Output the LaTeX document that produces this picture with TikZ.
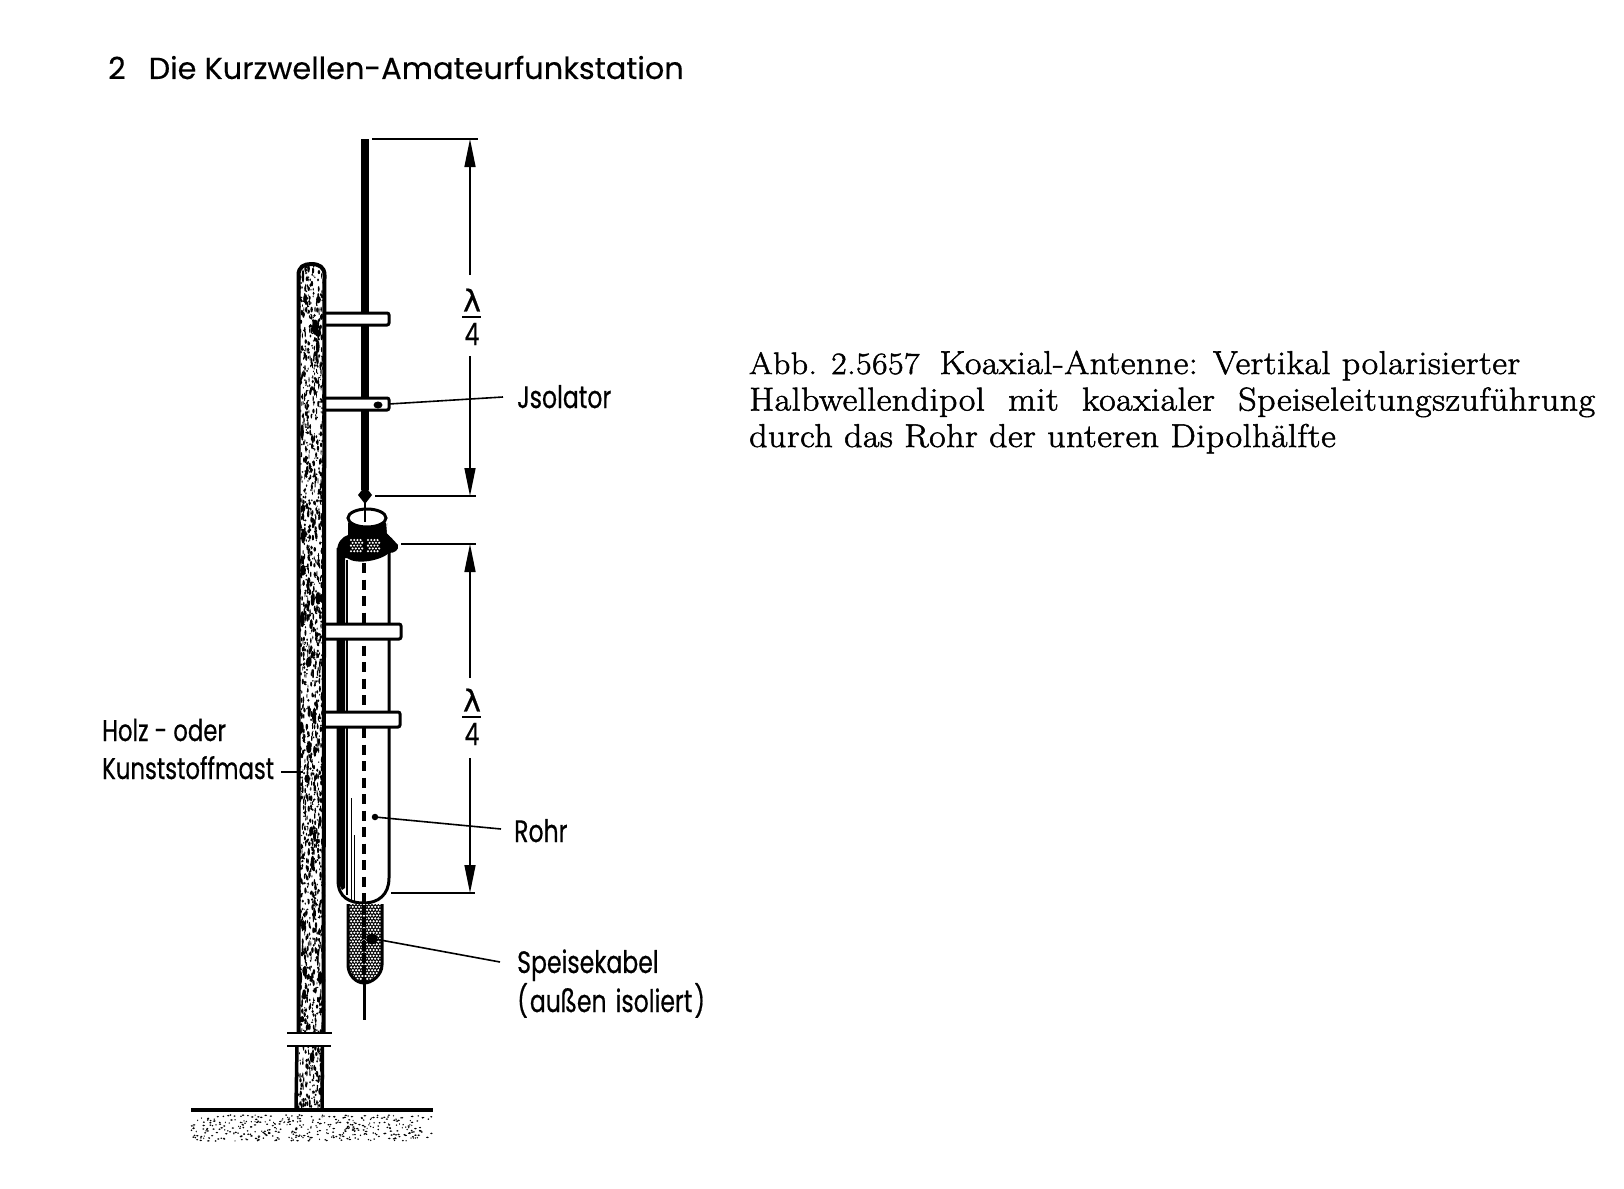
\documentclass[tikz,border=0pt]{standalone}
\usepackage{fontspec}
\usetikzlibrary{arrows.meta}
\newfontfamily\headfont[FakeBold=0.25]{Poppins}
\newfontfamily\labfont[FakeStretch=0.76,FakeBold=0.5]{Poppins}
\newfontfamily\greekfont[FakeBold=0.8]{DejaVu Sans}
\newfontfamily\capfont[FakeBold=1.6,FakeStretch=1.09,LetterSpace=1.5]{Latin Modern Roman}
\tikzset{
  x=1pt,y=-1pt,
  lab/.style={inner sep=0pt,anchor=base west,font=\labfont\fontsize{31}{37}\selectfont,align=left},
  frac/.style={inner sep=0pt,font=\labfont\fontsize{31}{37}\selectfont},
  leader/.style={line width=1.6pt},
  dimline/.style={line width=1.5pt},
  dimarrow/.style={dimline,-{Stealth[length=28pt,width=11pt,inset=0pt]}},
  clampbar/.style={draw,fill=white,line width=3pt,rounded corners=2pt},
  leaddot/.style={circle,fill,inner sep=0pt,minimum size=6.5pt},
}
\begin{document}
\begin{tikzpicture}
\useasboundingbox[fill=white] (0,0) rectangle (1624,1188);

% headline and caption
\node[inner sep=0pt,anchor=base west,font=\headfont\fontsize{30.4}{34}\selectfont] (head) at (108,79) {2\hspace{23pt}Die Kurzwellen-Amateurfunkstation};
\node[inner sep=0pt,anchor=base west,font=\capfont\fontsize{33}{36.5}\selectfont,align=left] (cap) at (749,447)
 {{\fontsize{31}{36.5}\selectfont Abb. 2.5657}\hspace{20pt}Koaxial-Antenne: Vertikal polarisierter\\
  \makebox[846pt][s]{Halbwellendipol\hfill mit\hfill koaxialer\hfill Speiseleitungszuführung}\\
  durch das Rohr der unteren Dipolhälfte};

% ground
\pgfmathsetseed{23}
\foreach \i in {1,...,400}{
  \pgfmathsetmacro{\gx}{191+242*rnd}
  \pgfmathsetmacro{\gy}{1115+26*rnd}
  \pgfmathsetmacro{\gw}{0.5+1.0*rnd}
  \fill (\gx,\gy) ellipse ({\gw} and 0.8);
}

% radiator (behind the clamps)
\coordinate (radtop) at (365,139);
\coordinate (radend) at (365,495);
\draw[line width=7.5pt] (radtop) -- (365,490);
\fill (365,486) -- (372,495) -- (365,504) -- (358,495) -- cycle;
\draw[line width=2.5pt] (radend) -- (365,522);

% tube
\fill[black] (337,548) -- (345,548) -- (345,888) -- (342,890) -- (337,880) -- cycle;
\draw[line width=3pt] (389,545) -- (389,878) .. controls (389,895) and (378,903) .. (364,903)
   .. controls (350,903) and (338,898) .. (338,880) -- (338,548);
\draw[line width=1.2pt] (347,560) -- (347,895);
\draw[line width=1pt] (351,798) -- (351,900);
\draw[line width=1pt] (354,835) -- (354,901);

% inner conductor seen through the tube
\draw[line width=3.4pt,dash pattern=on 10pt off 6.5pt] (364,563) -- (364,903);

% feed cable, lower end
\begin{scope}
  \clip (348,904) -- (348,965) .. controls (348,975) and (356,983) .. (364,983)
   .. controls (372,983) and (382,975) .. (382,965) -- (382,904) -- cycle;
  \fill (345,900) rectangle (385,985);
  \foreach \cx in {0,...,11}{
    \foreach \cy in {0,...,27}{
      \fill[white] ({348+\cx*3.2+mod(\cy,2)*1.6},{904+\cy*1.6*1.8}) circle (1.25);
    }
  }
\end{scope}
\draw[line width=3pt] (364,982) -- (364,1020);
\draw[line width=3pt] (348,904) -- (348,965) .. controls (348,975) and (356,983) .. (364,983)
   .. controls (372,983) and (382,975) .. (382,965) -- (382,904);
\draw[line width=4.5pt,dash pattern=on 10pt off 2pt] (364,905) -- (364,982);
\fill (372,939) circle (5.5);

% upper end of tube with braid
\fill (337,552) .. controls (337,542) and (342,537) .. (348,535) -- (348,523) -- (387,523) -- (387,533)
   -- (398,545) .. controls (399,550) and (395,553) .. (389,553) .. controls (380,561) and (356,565) .. (347,558) -- (337,558) -- cycle;
\draw[fill=white,line width=3pt] (367,518) ellipse (19 and 9);
\fill[white] (386,521) -- (391,537) -- (387,533) -- cycle;
\draw[line width=2.5pt] (365,505) -- (365,522);
\foreach \cx in {0,...,3}{
  \foreach \cy in {0,...,4}{
    \fill[white] ({351+\cx*3.2+mod(\cy,2)*1.6},{540+\cy*2.8}) circle (1.15);
    \fill[white] ({368+\cx*3.2+mod(\cy,2)*1.6},{540+\cy*2.8}) circle (1.15);
  }
}

% clamps
\draw[clampbar] (320,313) rectangle (389,325);
\draw[clampbar] (320,398) rectangle (389,410);
\draw[clampbar] (320,624) rectangle (401,639);
\draw[clampbar] (320,712) rectangle (400,727);
\fill (378,405) ellipse (4.5 and 3.5);

% mast
\path[fill=white] (297,1033) -- (297,275) .. controls (297,266) and (303,262) .. (311,262)
   .. controls (319,262) and (326,266) .. (326,275) -- (325,1033) -- cycle;
\path[fill=white] (295,1046) rectangle (324,1108);
\begin{scope}
  \clip (297,1033) -- (297,275) .. controls (297,266) and (303,262) .. (311,262)
   .. controls (319,262) and (326,266) .. (326,275) -- (325,1033) -- cycle
   (295,1046) rectangle (324,1108);
  \pgfmathsetseed{5}
  \foreach \i in {1,...,2100}{
    \pgfmathsetmacro{\mx}{297+28*rnd}
    \pgfmathsetmacro{\my}{262+846*rnd}
    \pgfmathsetmacro{\mw}{0.4+0.9*rnd}
    \pgfmathsetmacro{\mh}{0.6+2.6*rnd}
    \fill (\mx,\my) ellipse ({\mw} and {\mh});
  }
  \foreach \i in {1,...,40}{
    \pgfmathsetmacro{\mx}{299+24*rnd}
    \pgfmathsetmacro{\my}{262+846*rnd}
    \pgfmathsetmacro{\mw}{1.2+1.8*rnd}
    \pgfmathsetmacro{\mh}{3+5*rnd}
    \fill (\mx,\my) ellipse ({\mw} and {\mh});
  }
\end{scope}
\fill[white] (285,1034) rectangle (335,1045);
\draw[line width=4pt,line join=round] (298.5,1033) -- (298.5,275) .. controls (298.5,267) and (304,264) .. (311,264)
   .. controls (319,264) and (324.5,267) .. (324.5,275) -- (323.5,1033);
\draw[line width=3.5pt] (297,1046) -- (296,1108);
\draw[line width=3.5pt] (322.5,1046) -- (322,1108);
\draw[line width=2pt] (287,1033) -- (332,1033);
\draw[line width=2pt] (287,1046) -- (331,1046);
\draw[line width=4pt] (191,1110) -- (433,1110);

% labels
\node[lab] (isolator) at (517,408) {Jsolator};
\node[lab,font=\labfont\fontsize{30}{37}\selectfont] (mast) at (102,779) {Holz - oder\\[1pt]Kunststoffmast};
\node[lab] (rohr) at (514,842) {Rohr};
\node[lab] (kabel) at (517,1012) {Speisekabel\\[1pt](\hspace{2pt}außen\hspace{9pt}isoliert\hspace{2pt})};

% quarter-wave marks
\node[frac,font=\greekfont\fontsize{30}{34}\selectfont] (lamA) at (472,300) {λ};
\node[frac] (fourA) at (472,334) {4};
\node[frac,font=\greekfont\fontsize{30}{34}\selectfont] (lamB) at (472,700) {λ};
\node[frac] (fourB) at (472,734) {4};
\draw[line width=2.8pt] (462,317) -- (481,317);
\draw[line width=2.8pt] (462,717) -- (481,717);

% dimension lines
\coordinate (d1a) at (372,139); \coordinate (d1b) at (478,139);
\coordinate (d2a) at (375,496); \coordinate (d2b) at (476,496);
\coordinate (d3a) at (401,544); \coordinate (d3b) at (476,544);
\coordinate (d4a) at (391,893); \coordinate (d4b) at (475,893);
\draw[dimline] (d1a) -- (d1b);
\draw[dimline] (d2a) -- (d2b);
\draw[dimline] (d3a) -- (d3b);
\draw[dimline] (d4a) -- (d4b);
\draw[dimarrow] (470,275) -- (470,139);
\draw[dimarrow] (470,356) -- (470,496);
\draw[dimarrow] (470,678) -- (470,544);
\draw[dimarrow] (470,758) -- (470,893);

% leaders
\coordinate (isoEnd) at (389,404);
\coordinate (mastEnd) at (303,772);
\coordinate (rohrEnd) at (375,817);
\coordinate (kabelEnd) at (375,939);
\draw[leader] (isoEnd) -- (503,397);
\draw[leader] (281,772) -- (mastEnd);
\node[leaddot] at (rohrEnd) {};
\draw[leader] (rohrEnd) -- (501,829);
\draw[leader] (kabelEnd) -- (500,962);
\end{tikzpicture}
\end{document}
